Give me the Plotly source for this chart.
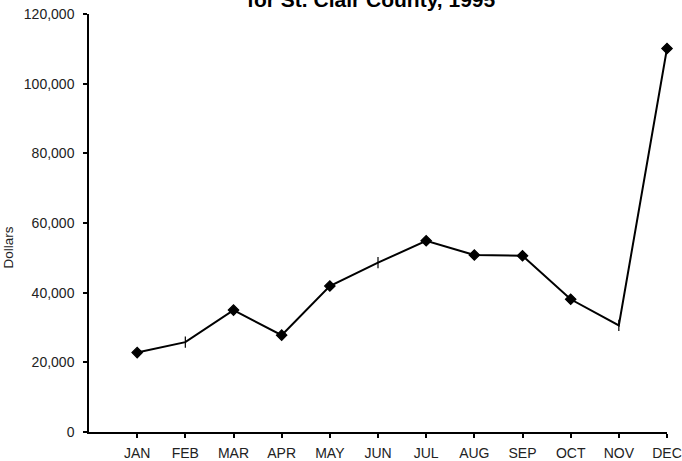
import plotly.graph_objects as go

months = ["JAN", "FEB", "MAR", "APR", "MAY", "JUN", "JUL", "AUG", "SEP", "OCT", "NOV", "DEC"]
dollars = [22800, 25800, 35000, 27800, 41900, 48600, 54900, 50800, 50600, 38100, 30600, 110100]
symbols = ["diamond", "line-ns-open", "diamond", "diamond", "diamond", "line-ns-open",
           "diamond", "diamond", "diamond", "diamond", "line-ns-open", "diamond"]
y_ticks = [0, 20000, 40000, 60000, 80000, 100000, 120000]

x_idx = list(range(len(months)))

fig = go.Figure()
fig.add_trace(go.Scatter(
    x=x_idx, y=dollars, mode="lines+markers",
    line=dict(color="black", width=2),
    marker=dict(symbol=symbols, size=8, color="black",
                line=dict(color="black", width=1.2)),
    cliponaxis=False, showlegend=False,
))

fig.update_layout(
    width=682, height=461,
    margin=dict(l=89, r=15, t=14, b=29),
    paper_bgcolor="white", plot_bgcolor="white",
    font=dict(family="Liberation Sans, Arial, sans-serif", size=14, color="#222"),
    annotations=[
        dict(text="<b>for St. Clair County, 1995</b>", xref="paper", yref="paper",
             x=(371 - 89) / (682 - 89 - 15), y=1.0, yanchor="bottom", xanchor="center",
             yshift=1, showarrow=False, font=dict(size=21, color="black")),
        dict(text="Dollars", xref="paper", yref="paper", x=0, y=0.44,
             xanchor="center", yanchor="middle", xshift=8.5 - 89, textangle=-90,
             showarrow=False, font=dict(size=13.5, color="#222")),
    ],
)
fig.update_xaxes(
    range=[-1, 11], tickvals=x_idx, ticktext=months,
    showline=True, linecolor="black", linewidth=1.5,
    ticks="outside", ticklen=4, tickcolor="black", tickwidth=1.5,
    showgrid=False, zeroline=False, automargin=False,
    tickfont=dict(size=14, color="#222"), ticklabelstandoff=3,
)
fig.update_yaxes(
    range=[0, 120000], tickvals=y_ticks, tickformat=",",
    showline=True, linecolor="black", linewidth=1.5,
    ticks="outside", ticklen=4, tickcolor="black", tickwidth=1.5,
    showgrid=False, zeroline=False, automargin=False,
    tickfont=dict(size=14, color="#222"), ticklabelstandoff=6,
)

fig.write_html("out.html", config={"displayModeBar": False},
               post_script="document.body.style.margin='0';")
